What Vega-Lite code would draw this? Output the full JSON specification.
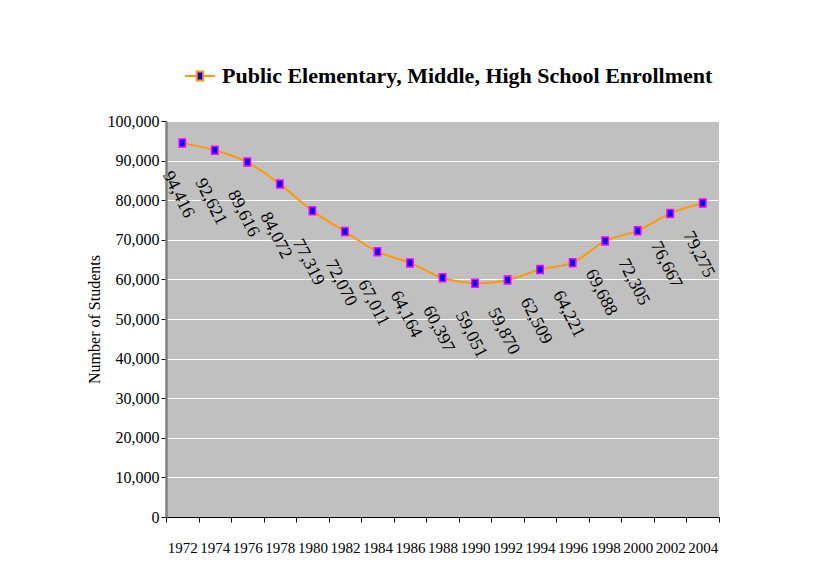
{
  "$schema": "https://vega.github.io/schema/vega-lite/v6.json",
  "autosize": "none",
  "width": 553,
  "height": 396,
  "padding": {"left": 166, "top": 121, "right": 95, "bottom": 63},
  "background": "white",
  "config": {
    "view": {"fill": "#c0c0c0", "stroke": null},
    "font": "Liberation Serif"
  },
  "data": {
    "values": [
      {"year": "1972", "students": 94416, "series": "Public Elementary, Middle, High School Enrollment"},
      {"year": "1974", "students": 92621, "series": "Public Elementary, Middle, High School Enrollment"},
      {"year": "1976", "students": 89616, "series": "Public Elementary, Middle, High School Enrollment"},
      {"year": "1978", "students": 84072, "series": "Public Elementary, Middle, High School Enrollment"},
      {"year": "1980", "students": 77319, "series": "Public Elementary, Middle, High School Enrollment"},
      {"year": "1982", "students": 72070, "series": "Public Elementary, Middle, High School Enrollment"},
      {"year": "1984", "students": 67011, "series": "Public Elementary, Middle, High School Enrollment"},
      {"year": "1986", "students": 64164, "series": "Public Elementary, Middle, High School Enrollment"},
      {"year": "1988", "students": 60397, "series": "Public Elementary, Middle, High School Enrollment"},
      {"year": "1990", "students": 59051, "series": "Public Elementary, Middle, High School Enrollment"},
      {"year": "1992", "students": 59870, "series": "Public Elementary, Middle, High School Enrollment"},
      {"year": "1994", "students": 62509, "series": "Public Elementary, Middle, High School Enrollment"},
      {"year": "1996", "students": 64221, "series": "Public Elementary, Middle, High School Enrollment"},
      {"year": "1998", "students": 69688, "series": "Public Elementary, Middle, High School Enrollment"},
      {"year": "2000", "students": 72305, "series": "Public Elementary, Middle, High School Enrollment"},
      {"year": "2002", "students": 76667, "series": "Public Elementary, Middle, High School Enrollment"},
      {"year": "2004", "students": 79275, "series": "Public Elementary, Middle, High School Enrollment"}
    ]
  },
  "encoding": {
    "x": {
      "field": "year",
      "type": "ordinal",
      "scale": {"type": "band", "paddingInner": 0, "paddingOuter": 0},
      "title": null,
      "axis": {
        "labelAngle": 0,
        "labelFont": "Liberation Serif",
        "labelFontSize": 15,
        "labelColor": "black",
        "labelPadding": 18,
        "tickBand": "extent",
        "tickColor": "black",
        "tickSize": 5,
        "domainColor": "black",
        "domainWidth": 1,
        "grid": false
      }
    },
    "y": {
      "field": "students",
      "type": "quantitative",
      "scale": {"domain": [0, 100000], "nice": false},
      "title": "Number of Students",
      "axis": {
        "values": [0, 10000, 20000, 30000, 40000, 50000, 60000, 70000, 80000, 90000, 100000],
        "format": ",d",
        "labelFont": "Liberation Serif",
        "labelFontSize": 16,
        "labelColor": "black",
        "labelPadding": 2,
        "tickColor": "black",
        "tickSize": 5,
        "domainColor": "#808080",
        "domainWidth": 2.5,
        "gridColor": "white",
        "gridWidth": 1,
        "gridOpacity": 1,
        "titleFont": "Liberation Serif",
        "titleFontSize": 16,
        "titleFontWeight": "normal",
        "titleColor": "black",
        "titlePadding": 5
      }
    }
  },
  "layer": [
    {
      "mark": {"type": "line", "interpolate": "catmull-rom", "strokeWidth": 2},
      "encoding": {
        "color": {
          "field": "series",
          "type": "nominal",
          "scale": {"range": ["#ff9900"]},
          "legend": {
            "orient": "none",
            "legendX": 18,
            "legendY": -61,
            "title": null,
            "labelFont": "Liberation Serif",
            "labelFontSize": 22,
            "labelFontWeight": "bold",
            "labelColor": "black",
            "labelLimit": 700,
            "labelOffset": 6,
            "symbolSize": 900,
            "symbolType": "M-1,0H-0.22M0.22,0H1M-0.22,-0.3H0.22V0.3H-0.22Z",
            "encode": {
              "symbols": {
                "update": {
                  "fill": {"value": "#0000ff"},
                  "stroke": {"value": "#ff9900"},
                  "strokeWidth": {"value": 2},
                  "opacity": {"value": 1}
                }
              }
            }
          }
        }
      }
    },
    {
      "mark": {
        "type": "point",
        "shape": "M-0.8,-1H0.8V1H-0.8Z",
        "size": 64,
        "filled": true,
        "fill": "#0000ff",
        "stroke": "#ff00ff",
        "strokeWidth": 1.5,
        "opacity": 1
      }
    },
    {
      "mark": {
        "type": "text",
        "angle": 63,
        "align": "center",
        "baseline": "middle",
        "dx": 44,
        "dy": 27,
        "font": "Liberation Serif",
        "fontSize": 18,
        "color": "black"
      },
      "encoding": {
        "text": {"field": "students", "type": "quantitative", "format": ",d"}
      }
    }
  ]
}
